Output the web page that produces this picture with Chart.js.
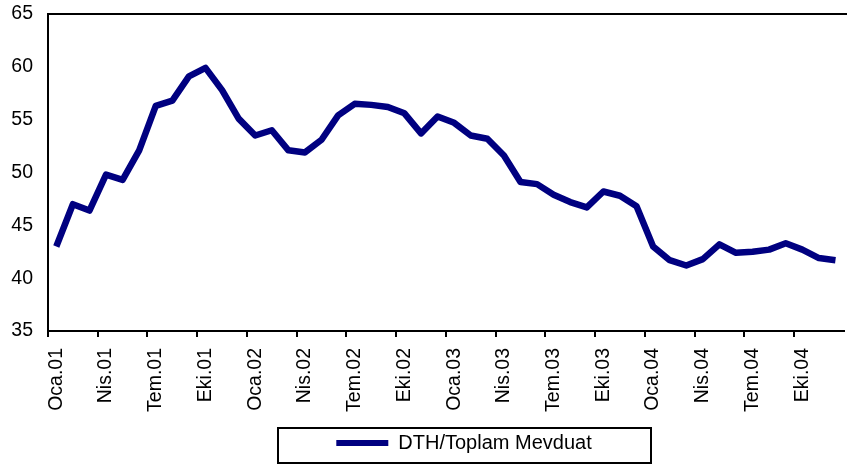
<!DOCTYPE html>
<html><head><meta charset="utf-8">
<script src="https://cdn.jsdelivr.net/npm/chart.js@4/dist/chart.umd.min.js"></script>
<style>
html,body{margin:0;padding:0;background:#fff;overflow:hidden;}
#wrap{width:870px;height:464px;}
</style>
</head><body>
<div id="wrap"><canvas id="c" width="870" height="464"></canvas></div>
<script>
const categories = [
  'Oca.01','Şub.01','Mar.01','Nis.01','May.01','Haz.01','Tem.01','Ağu.01','Eyl.01','Eki.01','Kas.01','Ara.01',
  'Oca.02','Şub.02','Mar.02','Nis.02','May.02','Haz.02','Tem.02','Ağu.02','Eyl.02','Eki.02','Kas.02','Ara.02',
  'Oca.03','Şub.03','Mar.03','Nis.03','May.03','Haz.03','Tem.03','Ağu.03','Eyl.03','Eki.03','Kas.03','Ara.03',
  'Oca.04','Şub.04','Mar.04','Nis.04','May.04','Haz.04','Tem.04','Ağu.04','Eyl.04','Eki.04','Kas.04','Ara.04'
];
const seriesName = 'DTH/Toplam Mevduat';
const dthRatio = [
  43.0, 47.0, 46.4, 49.8, 49.3, 52.1, 56.3, 56.8, 59.1, 59.9, 57.8, 55.1,
  53.5, 54.0, 52.1, 51.9, 53.1, 55.4, 56.5, 56.4, 56.2, 55.6, 53.7, 55.3,
  54.7, 53.5, 53.2, 51.6, 49.1, 48.9, 47.9, 47.2, 46.7, 48.2, 47.8, 46.8,
  43.0, 41.7, 41.2, 41.8, 43.2, 42.4, 42.5, 42.7, 43.3, 42.7, 41.9, 41.7
];
const yTickValues = [35, 40, 45, 50, 55, 60, 65];
const labelEvery = 3;

const frame = {
  id: 'frame',
  afterLayout(chart) {
    const lg = chart.legend;
    const dx = 35;
    lg.left += dx; lg.right += dx;
  },
  afterDraw(chart) {
    const {ctx, chartArea: a} = chart;
    ctx.save();
    ctx.strokeStyle = '#000';
    ctx.lineWidth = 2;
    ctx.beginPath();
    ctx.moveTo(a.left - 1, a.top);
    ctx.lineTo(a.right + 20, a.top);
    ctx.stroke();
    const lg = chart.legend;
    const cx = (lg.left + lg.right) / 2;
    const cy = lg.top + lg.height / 2;
    ctx.strokeRect(Math.round(cx - 186), Math.round(cy - 17), 373, 35);
    ctx.restore();
  }
};

const tickFont = { family: '"Liberation Sans", Arial, sans-serif', size: 19.5 };

new Chart(document.getElementById('c'), {
  type: 'line',
  data: {
    labels: categories,
    datasets: [{
      label: seriesName,
      data: dthRatio,
      borderColor: '#000080',
      backgroundColor: '#000080',
      borderWidth: 6.5,
      pointRadius: 0,
      tension: 0,
      borderJoinStyle: 'round'
    }]
  },
  options: {
    responsive: false,
    animation: false,
    layout: { padding: { top: 14, right: 12, bottom: 1, left: 0 } },
    scales: {
      x: {
        type: 'category',
        offset: true,
        afterFit: s => { s.height = 96; s.paddingTop = 0; s.paddingBottom = 0; },
        grid: {
          offset: true,
          drawOnChartArea: false,
          drawTicks: true,
          tickLength: 6,
          lineWidth: 2,
          color: c => (c.index % labelEvery === 0 ? '#000' : 'rgba(0,0,0,0)')
        },
        border: { display: true, color: '#000', width: 2 },
        ticks: {
          autoSkip: false,
          maxRotation: 90,
          minRotation: 90,
          padding: 11,
          color: '#000',
          font: tickFont,
          callback: (v, i) => (i % labelEvery === 0 ? categories[i] : '')
        }
      },
      y: {
        min: yTickValues[0],
        max: yTickValues[yTickValues.length - 1],
        afterFit: s => { s.width = 48; s.paddingTop = 0; s.paddingBottom = 0; },
        grid: { display: true, drawOnChartArea: false, drawTicks: false },
        border: { display: true, color: '#000', width: 2 },
        ticks: {
          stepSize: yTickValues[1] - yTickValues[0],
          padding: 15,
          color: '#000',
          font: tickFont
        }
      }
    },
    plugins: {
      tooltip: { enabled: false },
      legend: {
        position: 'bottom',
        labels: {
          boxWidth: 52,
          boxHeight: 6,
          padding: 6,
          color: '#000',
          font: { family: '"Liberation Sans", Arial, sans-serif', size: 20 },
          generateLabels: chart => Chart.defaults.plugins.legend.labels.generateLabels(chart)
            .map(l => Object.assign({}, l, { lineWidth: 0, fillStyle: '#000080', strokeStyle: '#000080' }))
        }
      }
    }
  },
  plugins: [frame]
});
</script>
</body></html>
